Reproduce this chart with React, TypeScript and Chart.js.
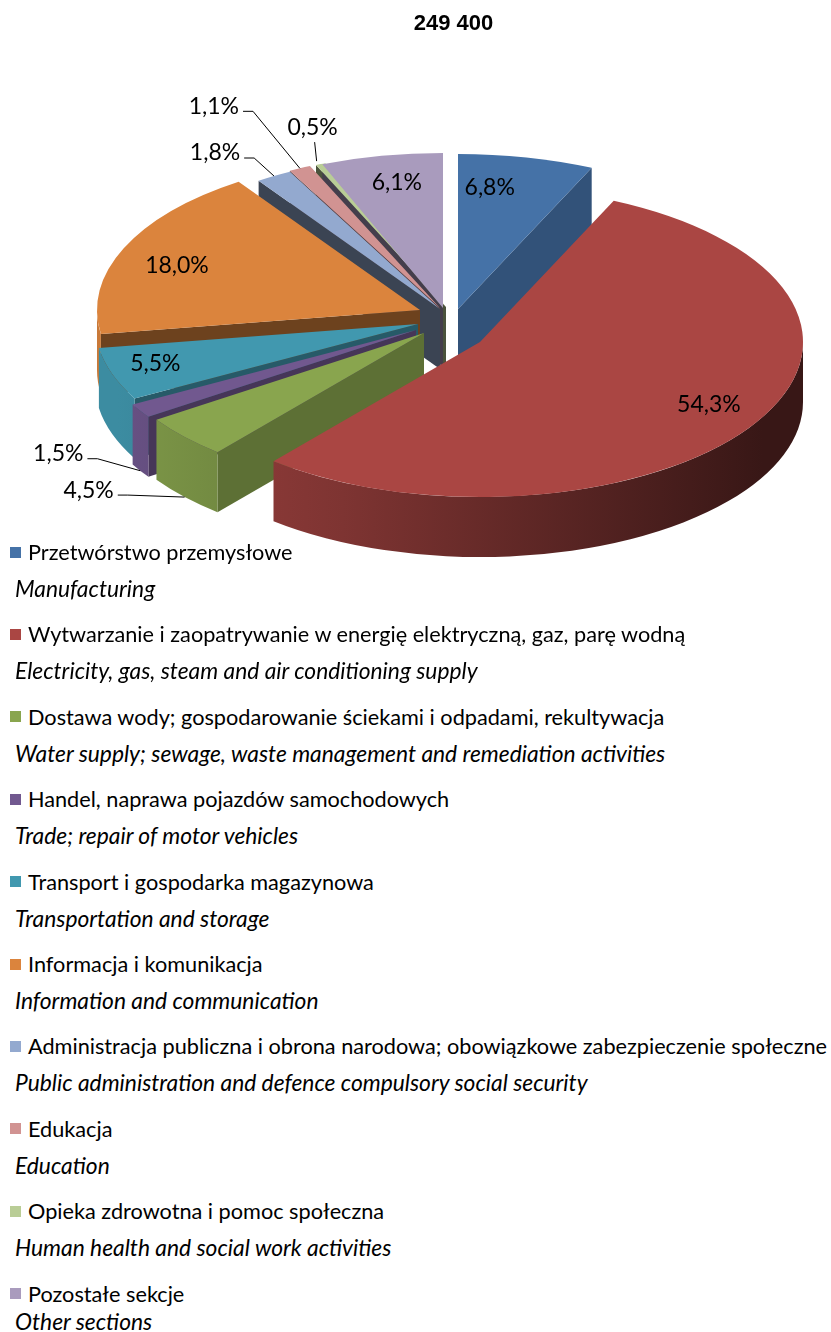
import React, { useEffect, useRef } from 'react';
import { Chart, registerables } from 'chart.js';

Chart.register(...registerables);

// ---------- data ----------
const TITLE = '249 400';

const categoriesPL = [
  'Przetwórstwo przemysłowe',
  'Wytwarzanie i zaopatrywanie w energię elektryczną, gaz, parę wodną',
  'Dostawa wody; gospodarowanie ściekami i odpadami, rekultywacja',
  'Handel, naprawa pojazdów samochodowych',
  'Transport i gospodarka magazynowa',
  'Informacja i komunikacja',
  'Administracja publiczna i obrona narodowa; obowiązkowe zabezpieczenie społeczne',
  'Edukacja',
  'Opieka zdrowotna i pomoc społeczna',
  'Pozostałe sekcje',
];

const categoriesEN = [
  'Manufacturing',
  'Electricity, gas, steam and air conditioning supply',
  'Water supply; sewage, waste management and remediation activities',
  'Trade; repair of motor vehicles',
  'Transportation and storage',
  'Information and communication',
  'Public administration and defence compulsory social security',
  'Education',
  'Human health and social work activities',
  'Other sections',
];

const shares = [6.8, 54.3, 4.5, 1.5, 5.5, 18.0, 1.8, 1.1, 0.5, 6.1];

// ---------- style ----------
const colors = [
  '#4572A7', '#AA4643', '#89A54E', '#71588F', '#4198AF',
  '#DB843D', '#93A9CF', '#D19392', '#B9CD96', '#A99BBD',
];

// screen-space explosion of each slice (px)
const explodeX = [18, 40, -16, -24, -22, -20, 0, 0, 6, 3];
const explodeY = [-1, 32, 23, 20, 14, 0, -1, -2, -3, -2];

const FLAT = 0.48;       // vertical squash of the pie disc
const DEPTH = 60;        // thickness of the 3D pie
const SCREEN_CY = 310;   // canvas y of the pie centre
const LABEL_R = 0.8;

const labelMode = ['in', 'in', 'out', 'out', 'in', 'in', 'out', 'out', 'out', 'in'];
const labelDX = [-23, 10, -96, -82, -18, -6, -59, -86, -8, 3];
const labelDY = [0, -3, -7, -17, 0, 5, -23, -62, -37, -4];
const anchorDepth = [0, 0, 1, 1, 0, 0, 0, 0, 0, 0];
const leaderKind = ['', '', 'side', 'side', '', '', 'side', 'side', 'below', ''];

const FONT = 'Lato, "Open Sans", sans-serif';

function shade(hex: string, f: number) {
  const n = parseInt(hex.slice(1), 16);
  const r = Math.min(255, Math.round(((n >> 16) & 255) * f));
  const g = Math.min(255, Math.round(((n >> 8) & 255) * f));
  const b = Math.min(255, Math.round((n & 255) * f));
  return `rgb(${r},${g},${b})`;
}

function fmt(v: number) {
  return v.toFixed(1).replace('.', ',') + '%';
}

function geom(chart: any, arc: any) {
  const area = chart.chartArea;
  const by = (area.top + area.bottom) / 2;
  const cx = arc.x;
  const cy = SCREEN_CY + (arc.y - by) * FLAT;
  const rx = arc.outerRadius;
  const ry = rx * FLAT;
  return { cx, cy, rx, ry };
}

const pie3d = {
  id: 'pie3d',
  beforeDatasetsDraw(chart: any) {
    const ctx: CanvasRenderingContext2D = chart.ctx;
    const area = chart.chartArea;
    const bx = (area.left + area.right) / 2;
    const by = (area.top + area.bottom) / 2;
    const meta = chart.getDatasetMeta(0);
    meta.data.forEach((arc: any, i: number) => {
      arc.x = bx + explodeX[i];
      arc.y = by + explodeY[i] / FLAT;
    });

    const faces: { key: number; draw: () => void }[] = [];
    const R0 = meta.data[0].outerRadius;
    meta.data.forEach((arc: any, i: number) => {
      const { cx, cy, rx, ry } = geom(chart, arc);
      const a0 = arc.startAngle;
      const a1 = arc.endAngle;
      const col = colors[i];
      // outer wall (front half only)
      const lo = Math.max(a0, 0);
      const hi = Math.min(a1, Math.PI);
      if (hi > lo) {
        faces.push({
          key: cy + ry * Math.sin((lo + hi) / 2) + DEPTH / 2,
          draw: () => {
            const g = ctx.createLinearGradient(bx - R0, 0, bx + R0, 0);
            g.addColorStop(0, shade(col, 0.92));
            g.addColorStop(0.35, shade(col, 0.74));
            g.addColorStop(1, shade(col, 0.33));
            ctx.fillStyle = g;
            ctx.beginPath();
            ctx.ellipse(cx, cy, rx, ry, 0, lo, hi, false);
            ctx.lineTo(cx + rx * Math.cos(hi), cy + ry * Math.sin(hi) + DEPTH);
            ctx.ellipse(cx, cy + DEPTH, rx, ry, 0, hi, lo, true);
            ctx.closePath();
            ctx.fill();
          },
        });
      }
      // radial faces
      const radial = (a: number, nx: number) => {
        const px = cx + rx * Math.cos(a);
        const py = cy + ry * Math.sin(a);
        const f = Math.max(0.4, Math.min(0.75, 0.45 + 0.3 * nx));
        faces.push({
          key: (cy + py) / 2 + DEPTH / 2,
          draw: () => {
            ctx.fillStyle = shade(col, f);
            ctx.beginPath();
            ctx.moveTo(cx, cy);
            ctx.lineTo(px, py);
            ctx.lineTo(px, py + DEPTH);
            ctx.lineTo(cx, cy + DEPTH);
            ctx.closePath();
            ctx.fill();
          },
        });
      };
      if (Math.cos(a0) < -1e-6) radial(a0, Math.sin(a0));
      if (Math.cos(a1) > 1e-6) radial(a1, -Math.sin(a1));
    });
    faces.sort((a, b) => a.key - b.key).forEach((f) => f.draw());

    ctx.save();
    ctx.translate(0, SCREEN_CY);
    ctx.scale(1, FLAT);
    ctx.translate(0, -by);
  },
  afterDatasetsDraw(chart: any) {
    const ctx: CanvasRenderingContext2D = chart.ctx;
    ctx.restore();
    const meta = chart.getDatasetMeta(0);
    ctx.save();
    ctx.font = `23px ${FONT}`;
    ctx.fillStyle = '#000';
    ctx.strokeStyle = '#000';
    ctx.lineWidth = 1;
    ctx.textAlign = 'center';
    ctx.textBaseline = 'middle';
    meta.data.forEach((arc: any, i: number) => {
      const { cx, cy, rx, ry } = geom(chart, arc);
      const mid = (arc.startAngle + arc.endAngle) / 2;
      const text = fmt(shares[i]);
      if (labelMode[i] === 'in') {
        const x = cx + LABEL_R * rx * Math.cos(mid) + labelDX[i];
        const y = cy + LABEL_R * ry * Math.sin(mid) + labelDY[i];
        ctx.fillText(text, x, y);
      } else {
        const ax = cx + rx * Math.cos(mid);
        const ay = cy + ry * Math.sin(mid) + DEPTH * anchorDepth[i];
        const lx = ax + labelDX[i];
        const ly = ay + labelDY[i];
        ctx.fillText(text, lx, ly);
        const w = ctx.measureText(text).width;
        ctx.beginPath();
        if (leaderKind[i] === 'below') {
          ctx.moveTo(lx + 2, ly + 15);
          ctx.lineTo(ax - 4, ay - 3);
        } else {
          const sx = lx + w / 2 + 4;
          ctx.moveTo(sx, ly + 5);
          ctx.lineTo(sx + 10, ly + 5);
          ctx.lineTo(ax, ay);
        }
        ctx.stroke();
      }
    });
    ctx.restore();
  },
};

export default function App() {
  const ref = useRef<HTMLCanvasElement>(null);

  useEffect(() => {
    const chart = new Chart(ref.current as HTMLCanvasElement, {
      type: 'pie',
      data: {
        labels: categoriesPL,
        datasets: [
          {
            data: shares,
            backgroundColor: colors,
            borderWidth: 0,
            clip: false as any,
          } as any,
        ],
      },
      options: {
        responsive: false,
        animation: false,
        events: [],
        devicePixelRatio: 1,
        layout: { padding: { left: 117, right: 68, top: 7, bottom: 7 } },
        plugins: {
          legend: { display: false },
          tooltip: { enabled: false },
          title: { display: false },
        },
      },
      plugins: [pie3d as any],
    });
    return () => chart.destroy();
  }, []);

  const rowStep = 82.4;
  return (
    <div
      style={{
        position: 'relative',
        width: 831,
        height: 1332,
        overflow: 'hidden',
        fontFamily: FONT,
        color: '#000',
        background: '#fff',
      }}
    >
      <style>{'html, body { margin: 0; padding: 0; }'}</style>
      <canvas ref={ref} width={831} height={660} style={{ position: 'absolute', left: 0, top: 0 }} />
      <div
        style={{
          position: 'absolute',
          left: 353.5,
          top: 9.5,
          width: 200,
          textAlign: 'center',
          font: 'bold 22px "Liberation Sans", Arial, sans-serif',
          lineHeight: '26px',
        }}
      >
        {TITLE}
      </div>
      {categoriesPL.map((pl, i) => {
        const cyPL = 552 + i * rowStep;
        const cyEN = cyPL + (i === categoriesPL.length - 1 ? 27 : 36);
        return (
          <React.Fragment key={i}>
            <div
              style={{
                position: 'absolute',
                left: 10,
                top: cyPL - 13,
                height: 26,
                display: 'flex',
                alignItems: 'center',
                whiteSpace: 'nowrap',
                fontSize: 21.7,
              }}
            >
              <span style={{ display: 'inline-block', width: 11, height: 11, background: colors[i], marginRight: 7 }} />
              <span>{pl}</span>
            </div>
            <div
              style={{
                position: 'absolute',
                left: 15,
                top: cyEN - 13,
                height: 26,
                lineHeight: '26px',
                whiteSpace: 'nowrap',
                fontSize: 22.8,
                fontStyle: 'italic',
              }}
            >
              {categoriesEN[i]}
            </div>
          </React.Fragment>
        );
      })}
    </div>
  );
}
